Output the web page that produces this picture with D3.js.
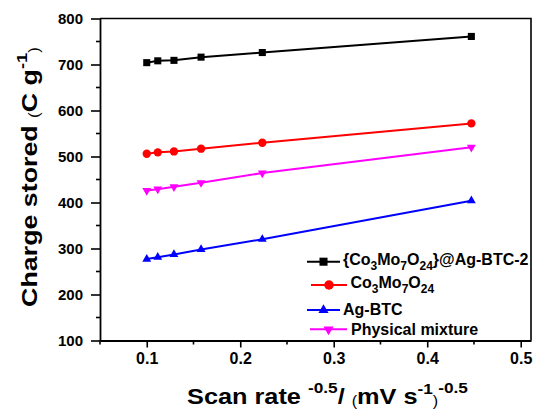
<!DOCTYPE html>
<html>
<head>
<meta charset="utf-8">
<script src="https://cdn.jsdelivr.net/npm/d3@7"></script>
<style>
  html, body { margin: 0; padding: 0; background: #fff; }
  svg { display: block; font-family: "Liberation Sans", Arial, sans-serif; }
</style>
</head>
<body>
<svg id="chart" width="538" height="410"></svg>
<script>
// Scan rate^-0.5 for 100, 80, 60, 40, 20 and 5 mV/s
const scanRates = [0.1, 0.1118, 0.1291, 0.1581, 0.2236, 0.4472];

const composite = [704, 708, 709, 716, 726, 761];   // {Co3Mo7O24}@Ag-BTC-2
const pom       = [506, 509, 511, 517, 530, 572];   // Co3Mo7O24
const agBtc     = [277, 281, 287, 298, 320, 404];   // Ag-BTC
const mixture   = [426, 429, 434, 443, 464, 520];   // Physical mixture

const xTicks = [0.1, 0.2, 0.3, 0.4, 0.5];
const yTicks = [100, 200, 300, 400, 500, 600, 700, 800];

const series = [
  { values: composite, color: "#000000", symbol: d3.symbolSquare,   size: 50, rot: 0 },
  { values: pom,       color: "#ff0000", symbol: d3.symbolCircle,   size: 55, rot: 0 },
  { values: agBtc,     color: "#0000ff", symbol: d3.symbolTriangle, size: 34, rot: 0 },
  { values: mixture,   color: "#ff00ff", symbol: d3.symbolTriangle, size: 34, rot: 180 }
];

const svg = d3.select("#chart");
const x = d3.scaleLinear().domain([0.05, 0.511]).range([100, 531]);
const y = d3.scaleLinear().domain([100, 800]).range([340.5, 18.5]);

const [x0, x1] = x.range();
const [yb, yt] = y.range();

// frame: top and right edges
svg.append("path")
  .attr("d", `M${x0},${yt}H${x1}V${yb}`)
  .attr("fill", "none").attr("stroke", "#000").attr("stroke-width", 1.6);

const xMinor = d3.range(0.05, 0.5001, 0.05).map(v => +v.toFixed(2)).filter(v => !xTicks.includes(v));
const yMinor = d3.range(150, 800, 100);

const xAxis = svg.append("g").attr("transform", `translate(0,${yb})`)
  .call(d3.axisBottom(x).tickValues(xTicks).tickFormat(d3.format(".1f")).tickSize(7).tickPadding(5).tickSizeOuter(0));
const yAxis = svg.append("g").attr("transform", `translate(${x0},0)`)
  .call(d3.axisLeft(y).tickValues(yTicks).tickSize(9).tickPadding(8).tickSizeOuter(0));

[xAxis, yAxis].forEach(g => {
  g.select(".domain").attr("stroke-width", 1.8).attr("stroke", "#000");
  g.selectAll(".tick line").attr("stroke-width", 1.6).attr("stroke", "#000");
  g.selectAll(".tick text").attr("font-weight", "bold")
    .attr("fill", "#000").attr("font-family", "Liberation Sans, Arial, sans-serif");
});
xAxis.selectAll(".tick text").attr("font-size", 16);
yAxis.selectAll(".tick text").attr("font-size", 15).attr("dy", "0.36em");

xAxis.selectAll(".minor").data(xMinor).enter().append("line")
  .attr("x1", d => x(d)).attr("x2", d => x(d)).attr("y1", 0).attr("y2", 4)
  .attr("stroke", "#000").attr("stroke-width", 1.6);
yAxis.selectAll(".minor").data(yMinor).enter().append("line")
  .attr("y1", d => y(d)).attr("y2", d => y(d)).attr("x1", 0).attr("x2", -4)
  .attr("stroke", "#000").attr("stroke-width", 1.6);

// lines and markers
const line = d3.line().x((d, i) => x(scanRates[i])).y(d => y(d));
series.forEach(s => {
  svg.append("path").datum(s.values)
    .attr("d", line).attr("fill", "none")
    .attr("stroke", s.color).attr("stroke-width", 2);
  svg.append("g").selectAll("path").data(s.values).enter().append("path")
    .attr("d", d3.symbol().type(s.symbol).size(s.size))
    .attr("transform", (d, i) => `translate(${x(scanRates[i])},${y(d)}) rotate(${s.rot})`)
    .attr("fill", s.color);
});

// legend
const legendRows = [
  { s: series[0], lx0: 307, lx1: 340, cy: 261.7, tx: 343, ty: 265, parts: [["{Co",0],["3",1],["Mo",0],["7",1],["O",0],["24",1],["}@Ag-BTC-2",0]] },
  { s: series[1], lx0: 311, lx1: 347, cy: 285,   tx: 350.5, ty: 288, parts: [["Co",0],["3",1],["Mo",0],["7",1],["O",0],["24",1]] },
  { s: series[2], lx0: 307, lx1: 340, cy: 310,   tx: 343, ty: 315, parts: [["Ag-BTC",0]] },
  { s: series[3], lx0: 310, lx1: 347, cy: 329.3, tx: 351, ty: 335, parts: [["Physical mixture",0]] }
];
legendRows.forEach(r => {
  const g = svg.append("g");
  g.append("line").attr("x1", r.lx0).attr("x2", r.lx1).attr("y1", r.cy).attr("y2", r.cy)
    .attr("stroke", r.s.color).attr("stroke-width", 2);
  g.append("path")
    .attr("d", d3.symbol().type(r.s.symbol).size(r.s.size * 1.3))
    .attr("transform", `translate(${(r.lx0 + r.lx1) / 2},${r.cy}) rotate(${r.s.rot})`)
    .attr("fill", r.s.color);
  const t = g.append("text").attr("x", r.tx).attr("y", r.ty)
    .attr("font-size", 16).attr("font-weight", "bold").attr("fill", "#000");
  let sub = false;
  r.parts.forEach(([txt, isSub]) => {
    const ts = t.append("tspan").text(txt);
    if (isSub) ts.attr("font-size", 12);
    if (isSub && !sub) { ts.attr("dy", 5); sub = true; }
    else if (!isSub && sub) { ts.attr("dy", -5); sub = false; }
  });
});

// stretch a title along its reading direction to a given length
function fitTitle(text, length) {
  const w = text.node().getBBox().width;
  text.attr("transform", text.attr("transform") + ` scale(${length / w},1)`);
}

// y axis title
const yTitle = svg.append("text")
  .attr("transform", "translate(37,177) rotate(-90)")
  .attr("text-anchor", "middle")
  .attr("font-size", 22).attr("font-weight", "bold").attr("fill", "#000");
yTitle.append("tspan").text("Charge stored ");
yTitle.append("tspan").text("(").attr("font-size", 14).attr("font-weight", "normal").attr("dy", 2);
yTitle.append("tspan").text("C g").attr("dy", -2);
yTitle.append("tspan").text("-1").attr("font-size", 15).attr("dy", -10);
yTitle.append("tspan").text(")").attr("font-size", 14).attr("font-weight", "normal").attr("dy", 12);
fitTitle(yTitle, 260);

// x axis title
const xTitle = svg.append("text")
  .attr("transform", "translate(327.5,404)")
  .attr("text-anchor", "middle")
  .attr("font-size", 22).attr("font-weight", "bold").attr("fill", "#000");
xTitle.append("tspan").text("Scan rate ");
xTitle.append("tspan").text("-0.5").attr("font-size", 15).attr("dy", -11);
xTitle.append("tspan").text("/ ").attr("dy", 11);
xTitle.append("tspan").text("(").attr("font-size", 14).attr("font-weight", "normal").attr("dy", 2);
xTitle.append("tspan").text("mV s").attr("dy", -2);
xTitle.append("tspan").text("-1").attr("font-size", 15).attr("dy", -10);
xTitle.append("tspan").text(")").attr("font-size", 14).attr("font-weight", "normal").attr("dy", 12);
xTitle.append("tspan").text("-0.5").attr("font-size", 15).attr("dy", -13);
fitTitle(xTitle, 281);
</script>
</body>
</html>
